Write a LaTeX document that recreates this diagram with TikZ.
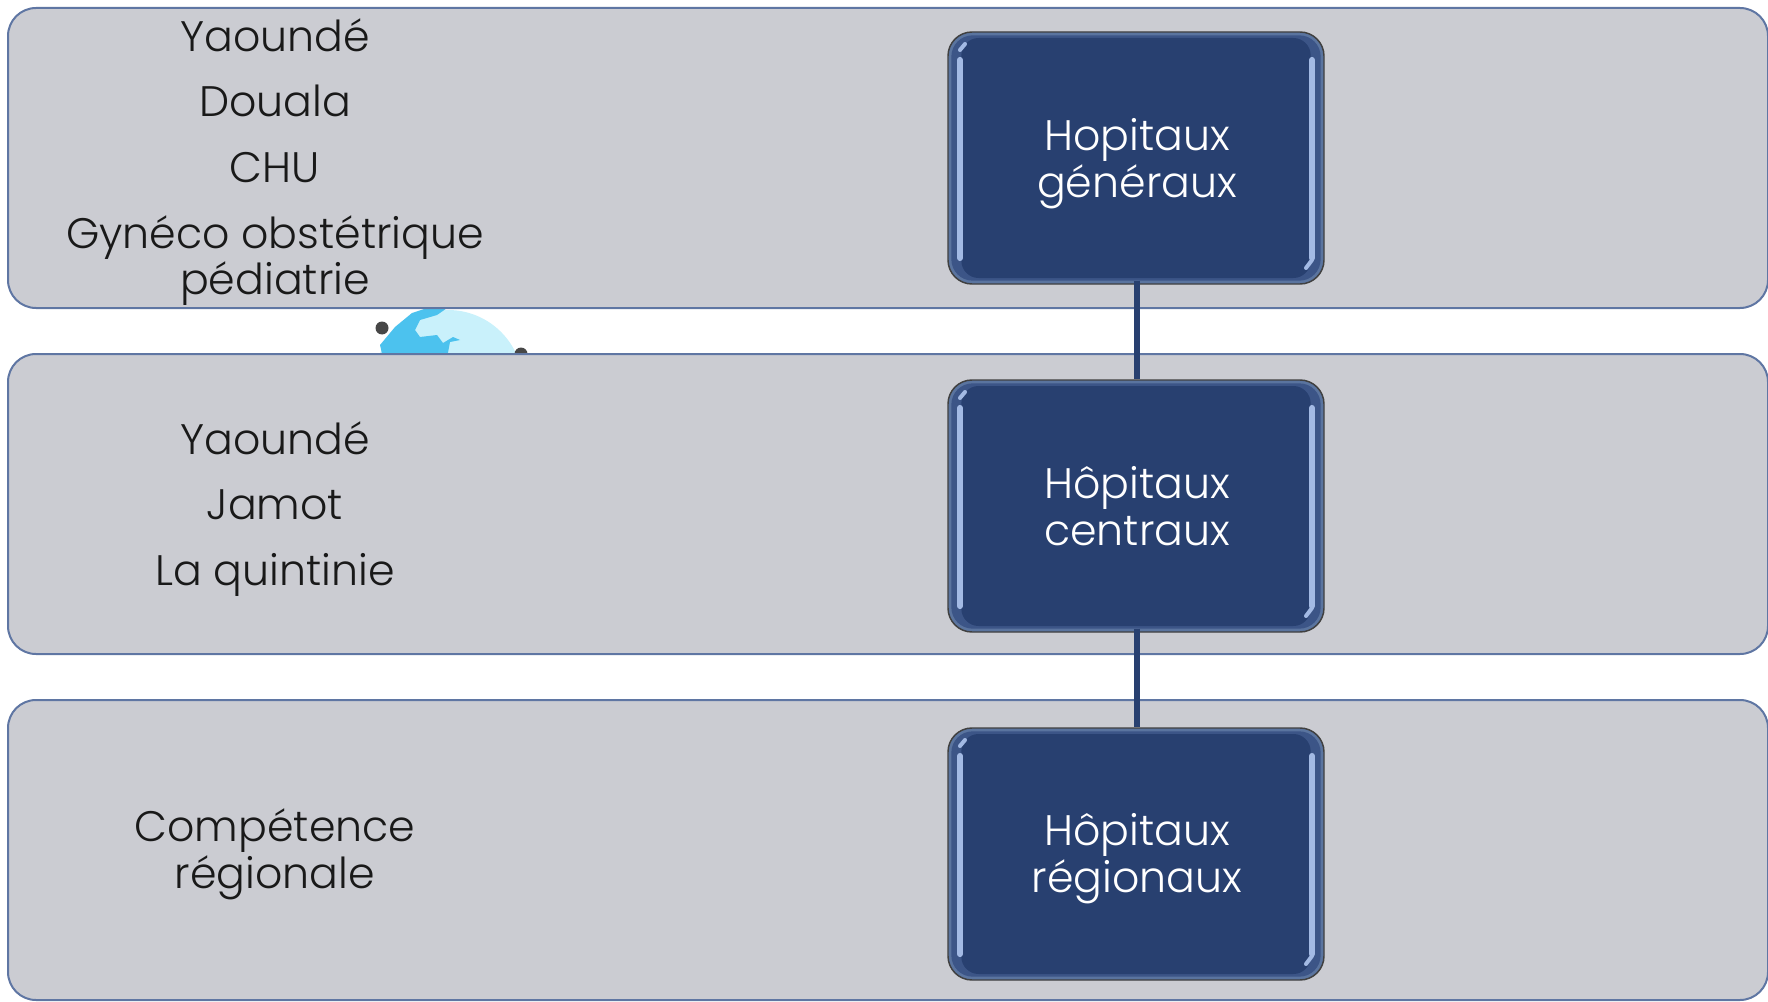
\documentclass[tikz,border=0pt]{standalone}
\usepackage{fontspec}
\setmainfont{Poppins Light}
\definecolor{bandfill}{HTML}{CBCCD2}
\definecolor{bandline}{HTML}{5F76A3}
\definecolor{navy}{HTML}{284070}
\definecolor{rim}{HTML}{5A749F}
\definecolor{midrim}{HTML}{3C5587}
\definecolor{shine}{HTML}{A3BAE4}
\definecolor{globe}{HTML}{C9F1FB}
\definecolor{land}{HTML}{4CC2EE}
\tikzset{
  x=0.75pt,y=-0.75pt,
  band/.style={draw=bandline,line width=1.5pt,fill=bandfill,rounded corners=21pt,inner sep=0pt,minimum width=1320pt,minimum height=225pt},
  hbox/.style={draw=black!75,line width=1.1pt,fill=rim,rounded corners=18pt,inner sep=0pt,minimum width=282pt,minimum height=189pt},
  hmid/.style={fill=midrim,rounded corners=16pt,inner sep=0pt,minimum width=277pt,minimum height=184pt},
  hcore/.style={fill=navy,rounded corners=13pt,inner sep=0pt,minimum width=262pt,minimum height=180pt},
  link/.style={draw=navy,line width=4.4pt},
  shinebar/.style={draw=shine,line width=4.6pt,line cap=round},
  dark/.style={font=\fontsize{32}{36}\selectfont,text=black!90,align=center,inner sep=0pt,anchor=base},
  light/.style={font=\fontsize{32}{36}\selectfont,text=white,align=center,inner sep=0pt,anchor=base}
}
\begin{document}
\begin{tikzpicture}
\useasboundingbox (0,0) rectangle (1768,1002);
% globe fragment visible between the two upper bands
\begin{scope}
\clip (370,300) rectangle (528,360);
\fill[globe] (448,385) circle (75);
\fill[land] (380,345) -- (395,327) -- (412,313) -- (433,306) -- (450,306) -- (437,315) -- (420,320) -- (415,330) -- (420,337) -- (437,335) -- (443,343) -- (453,337) -- (460,340) -- (450,342) -- (447,358) -- (383,358) -- cycle;
\fill[black!72] (382,328) circle (6.5);
\fill[black!72] (521,354) circle (6.5);
\end{scope}
\node[band] (b1) at (888,158) {};
\node[band] (b2) at (888,504) {};
\node[band] (b3) at (888,850) {};
\node[hbox] (h1) at (1136,158) {};
\node[hbox] (h2) at (1136,506) {};
\node[hbox] (h3) at (1136,854) {};
\foreach \n in {h1,h2,h3}{
  \node[hmid] (\n m) at (\n.center) {};
  \node[hcore] (\n c) at (\n.center) {};
  \draw[shinebar] ([shift={(-176,-98)}]\n.center) -- ([shift={(-176,100)}]\n.center);
  \draw[shinebar] ([shift={(176,-98)}]\n.center) -- ([shift={(176,100)}]\n.center);
  \draw[shinebar,line width=3pt] ([shift={(-176,-108)}]\n.center) -- ([shift={(-171,-114)}]\n.center);
  \draw[shinebar,line width=3pt] ([shift={(176,102)}]\n.center) -- ([shift={(170,110)}]\n.center);
}
% connectors
\draw[link] ([shift={(1,-4)}]h1.south) -- ([shift={(1,0)}]h2.north);
\draw[link] ([shift={(1,-4)}]h2.south) -- ([shift={(1,0)}]h3.north);
% left labels
\node[dark] (a1) at (275,52) {Yaoundé};
\node[dark] (a2) at (275,117) {Douala};
\node[dark] (a3) at (275,183) {CHU};
\node[dark] (a4) at (275,248) {Gynéco obstétrique};
\node[dark] (a5) at (275,294) {pédiatrie};
\node[dark] (c1) at (275,454) {Yaoundé};
\node[dark] (c2) at (275,519) {Jamot};
\node[dark] (c3) at (275,585) {La quintinie};
\node[dark] (d1) at (275,841) {Compétence};
\node[dark] (d2) at (275,888) {régionale};
% box labels
\node[light] (t1) at (1137,151) {Hopitaux};
\node[light] (t2) at (1137,198) {généraux};
\node[light] (t3) at (1137,498) {Hôpitaux};
\node[light] (t4) at (1137,545) {centraux};
\node[light] (t5) at (1137,845) {Hôpitaux};
\node[light] (t6) at (1137,892) {régionaux};
\end{tikzpicture}
\end{document}
